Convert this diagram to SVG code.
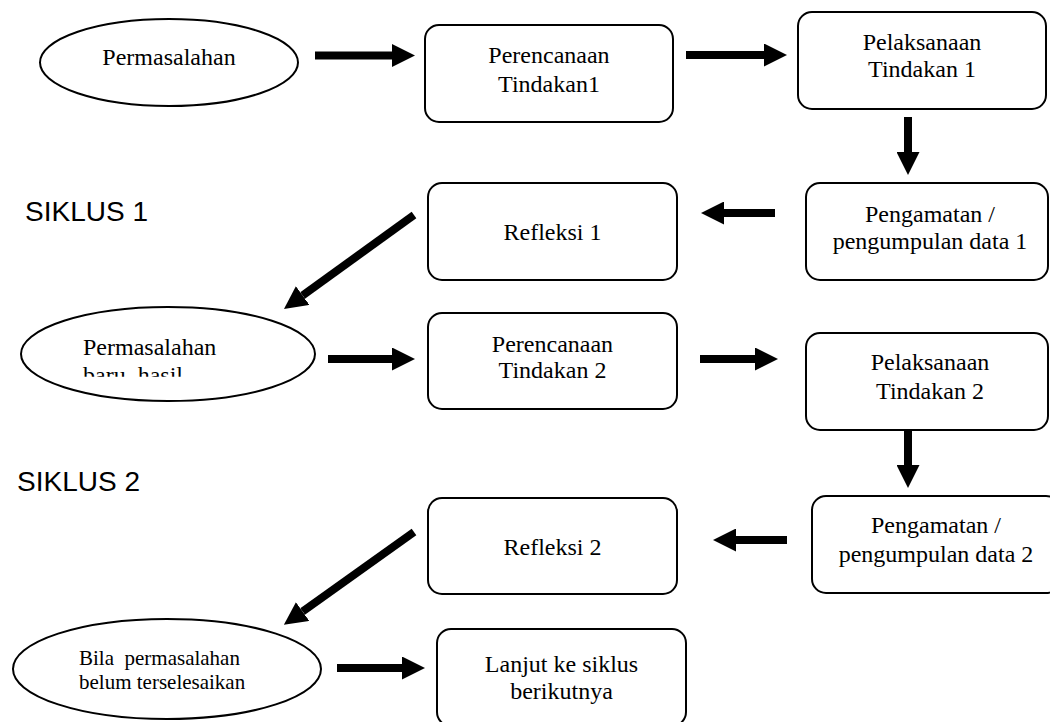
<svg xmlns="http://www.w3.org/2000/svg" width="1050" height="722" viewBox="0 0 1050 722">
<style>
.box{fill:#fff;stroke:#000;stroke-width:2}
.t{font-family:"Liberation Serif","Times New Roman",serif;font-size:24px;fill:#000}
.c{text-anchor:middle}
.s{font-family:"Liberation Sans",Arial,sans-serif;font-size:28px;fill:#000}
.arr{stroke:#000;stroke-width:8;fill:none;marker-end:url(#ah)}
</style>
<defs>
<marker id="ah" viewBox="0 0 10 10" refX="0" refY="5" markerUnits="strokeWidth" markerWidth="2.875" markerHeight="2.875" orient="auto">
<path d="M0,0 L10,5 L0,10 z" fill="#000"/>
</marker>
<clipPath id="clip6"><rect x="0" y="300" width="330" height="76.7"/></clipPath>
</defs>
<rect width="1050" height="722" fill="#fff"/>

<g id="siklus1"><text class="s" x="25" y="221">SIKLUS 1</text></g>
<g id="siklus2"><text class="s" x="17" y="491">SIKLUS 2</text></g>

<g id="n1">
<ellipse class="box" cx="169" cy="62.5" rx="129" ry="43.5"/>
<text class="t c" x="169" y="65">Permasalahan</text>
</g>
<g id="n2">
<rect class="box" x="425" y="25" width="248" height="97" rx="14"/>
<text class="t c" x="549" y="62.7">Perencanaan</text>
<text class="t c" x="549" y="91.7">Tindakan1</text>
</g>
<g id="n3">
<rect class="box" x="798" y="12" width="248" height="97" rx="14"/>
<text class="t c" x="922" y="50">Pelaksanaan</text>
<text class="t c" x="922" y="77">Tindakan 1</text>
</g>
<g id="n4">
<rect class="box" x="806" y="183" width="242" height="97" rx="14"/>
<text class="t c" x="930" y="222">Pengamatan /</text>
<text class="t c" x="930" y="249">pengumpulan data 1</text>
</g>
<g id="n5">
<rect class="box" x="428" y="183" width="249" height="97" rx="14"/>
<text class="t c" x="552.5" y="240">Refleksi 1</text>
</g>
<g id="n6">
<ellipse class="box" cx="168" cy="354" rx="147" ry="47"/>
<text class="t" x="83" y="355">Permasalahan</text>
<text class="t" x="83" y="383" clip-path="url(#clip6)">baru, hasil</text>
</g>
<g id="n7">
<rect class="box" x="428" y="313" width="249" height="96" rx="14"/>
<text class="t c" x="552.5" y="351.5">Perencanaan</text>
<text class="t c" x="552.5" y="378">Tindakan 2</text>
</g>
<g id="n8">
<rect class="box" x="806" y="333" width="242" height="97" rx="14"/>
<text class="t c" x="930" y="370">Pelaksanaan</text>
<text class="t c" x="930" y="399">Tindakan 2</text>
</g>
<g id="n9">
<rect class="box" x="812" y="496" width="248" height="97" rx="14"/>
<text class="t c" x="936" y="533">Pengamatan /</text>
<text class="t c" x="936" y="562">pengumpulan data 2</text>
</g>
<g id="n10">
<rect class="box" x="428" y="498" width="249" height="96" rx="14"/>
<text class="t c" x="552.5" y="555">Refleksi 2</text>
</g>
<g id="n11">
<ellipse class="box" cx="167" cy="669" rx="154" ry="50"/>
<text class="t" x="79" y="665" font-size="21" style="white-space:pre;font-size:21px">Bila  permasalahan</text>
<text class="t" x="79" y="689" style="font-size:21px">belum terselesaikan</text>
</g>
<g id="n12">
<rect class="box" x="437" y="629" width="249" height="97" rx="14"/>
<text class="t c" x="561.5" y="672">Lanjut ke siklus</text>
<text class="t c" x="561.5" y="699">berikutnya</text>
</g>

<g id="connectors">
<line class="arr" x1="315" y1="55.5" x2="392" y2="55.5"/>
<line class="arr" x1="686" y1="55" x2="764" y2="55"/>
<line class="arr" x1="908" y1="117" x2="908" y2="152"/>
<line class="arr" x1="775" y1="213" x2="724" y2="213"/>
<line class="arr" x1="414" y1="215" x2="302.6" y2="295.5"/>
<line class="arr" x1="328" y1="359" x2="392" y2="359"/>
<line class="arr" x1="700" y1="359" x2="755" y2="359"/>
<line class="arr" x1="908" y1="430" x2="908" y2="465"/>
<line class="arr" x1="787" y1="540" x2="736" y2="540"/>
<line class="arr" x1="414" y1="532" x2="302.6" y2="611.5"/>
<line class="arr" x1="337" y1="668" x2="402" y2="668"/>
</g>
</svg>
